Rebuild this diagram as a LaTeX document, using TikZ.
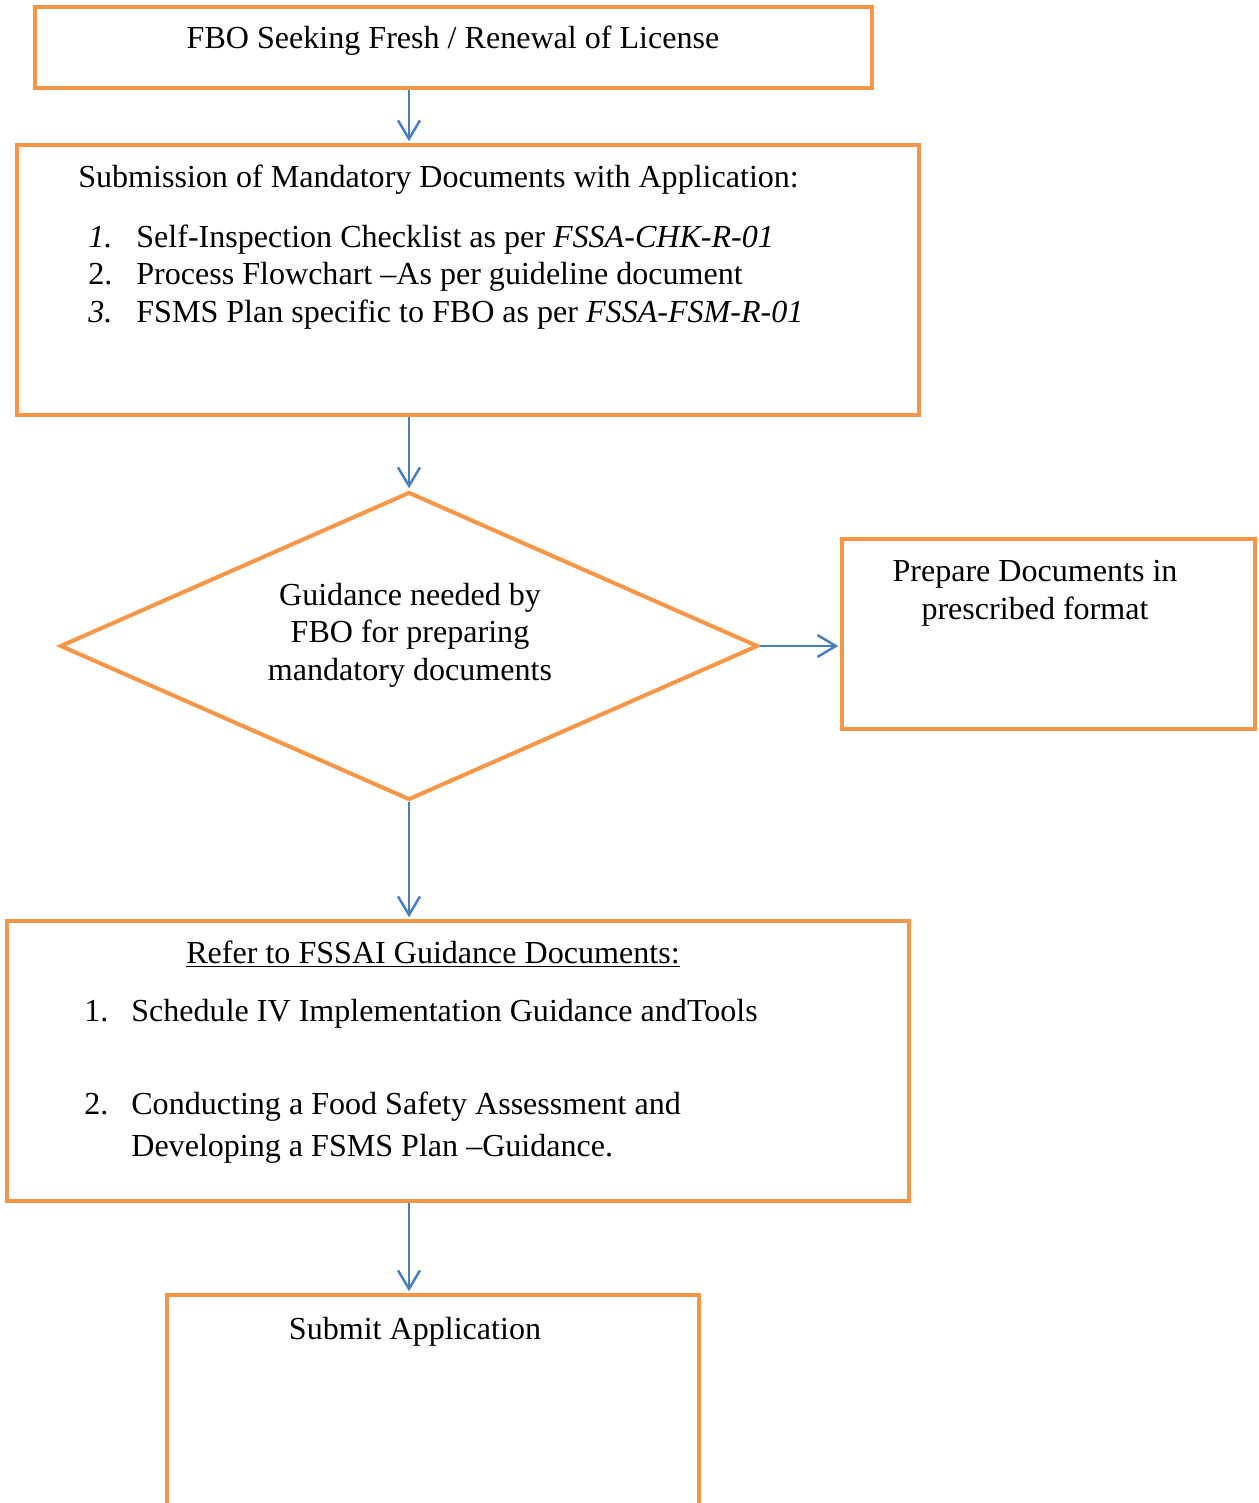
\documentclass[tikz,border=0pt]{standalone}
\usepackage{fontspec}
\setmainfont{Liberation Serif}
\usetikzlibrary{arrows.meta, shapes.geometric, positioning, calc}

\definecolor{boxorange}{HTML}{F79646}
\definecolor{linkblue}{HTML}{4A7EBB}

\tikzset{
  procbox/.style={draw=boxorange, line width=2.3pt, rectangle, inner sep=0pt},
  decision/.style={draw=boxorange, line width=2.3pt, diamond, inner sep=0pt},
  flowarrow/.style={-{Straight Barb[length=10.5pt, width=12.5pt]}, linkblue, line width=1.4pt, shorten >=1pt},
  boxtext/.style={font=\fontsize{18.25pt}{21.4pt}\selectfont, inner sep=0pt, text=black}
}

\begin{document}
\begin{tikzpicture}[x=0.02cm, y=-0.02cm]

\clip (0,0) rectangle (1258,1503);

% Draw the boxes
\node[procbox, minimum width=16.74cm, minimum height=1.62cm] (fbo) at (453.5,47.5) {};
\node[procbox, minimum width=18.04cm, minimum height=5.4cm] (submission) at (468,280) {};
\node[decision, minimum width=13.96cm, minimum height=6.16cm] (guidance) at (409,646) {};
\node[procbox, minimum width=8.26cm, minimum height=3.8cm] (prepare) at (1048.5,634) {};
\node[procbox, minimum width=18.04cm, minimum height=5.6cm] (refer) at (458,1061) {};
\node[procbox, minimum width=10.64cm, minimum height=5.3cm] (submit) at (433,1427.5) {};

% Texts of the boxes
\node[boxtext, anchor=base] (fbotext) at (453,49) {FBO Seeking Fresh / Renewal of License};

\node[boxtext, anchor=base west] (subhead) at (78,187.5) {Submission of Mandatory Documents with Application:};
\node[boxtext, anchor=base west] (subnum1) at (88,247.5) {\textit{1.}};
\node[boxtext, anchor=base west] (subitem1) at (136,247.5) {Self-Inspection Checklist as per \textit{FSSA-CHK-R-01}};
\node[boxtext, anchor=base west] (subnum2) at (88,285) {2.};
\node[boxtext, anchor=base west] (subitem2) at (136,285) {Process Flowchart –As per guideline document};
\node[boxtext, anchor=base west] (subnum3) at (88,323) {\textit{3.}};
\node[boxtext, anchor=base west] (subitem3) at (136,323) {FSMS Plan specific to FBO as per \textit{FSSA-FSM-R-01}};

\node[boxtext, align=center] (guidetext) at (410,635) {Guidance needed by\\FBO for preparing\\mandatory documents};

\node[boxtext, align=center] (preptext) at (1035,593) {Prepare Documents in\\prescribed format};

\node[boxtext, anchor=base] (referhead) at (433,963.5) {\underline{Refer to FSSAI Guidance Documents:}};
\node[boxtext, anchor=base west] (refnum1) at (84,1021.5) {1.};
\node[boxtext, anchor=base west] (refitem1) at (131,1021.5) {Schedule IV Implementation Guidance andTools};
\node[boxtext, anchor=base west] (refnum2) at (84,1114.5) {2.};
\node[boxtext, anchor=base west] (refitem2) at (131,1114.5) {Conducting a Food Safety Assessment and};
\node[boxtext, anchor=base west] (refitem2b) at (131,1156.5) {Developing a FSMS Plan –Guidance.};

\node[boxtext, anchor=base] (submittext) at (415,1339.5) {Submit Application};

% Draw the arrows
\draw[flowarrow] (fbo.south -| guidance.north) -- (submission.north -| guidance.north);
\draw[flowarrow] (submission.south -| guidance.north) -- (guidance.north);
\draw[flowarrow] (guidance.east) -- (guidance.east -| prepare.west);
\draw[flowarrow] (guidance.south) -- (refer.north -| guidance.south);
\draw[flowarrow] (refer.south -| guidance.south) -- (submit.north -| guidance.south);

\end{tikzpicture}
\end{document}
